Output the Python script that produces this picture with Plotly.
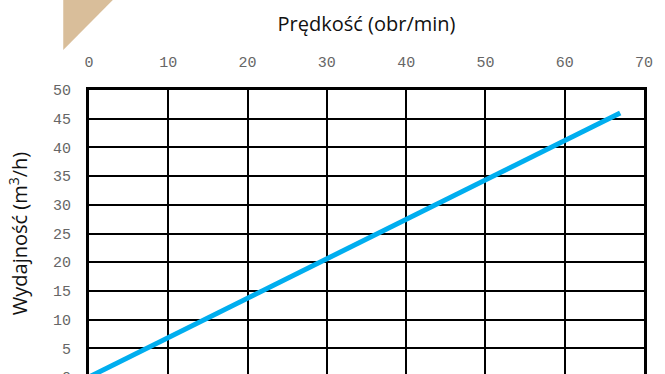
import plotly.graph_objects as go

# Data
speed = [0, 67]          # obr/min
flow = [0, 46]           # m3/h
x_ticks = [0, 10, 20, 30, 40, 50, 60, 70]
y_ticks = [0, 5, 10, 15, 20, 25, 30, 35, 40, 45, 50]

W, H = 665, 400
ml, mr, mt, mb = 89, 16, 90, 23
pw, ph = W - ml - mr, H - mt - mb

def px_to_paper(x, y):
    return (x - ml) / pw, 1 - (y - mt) / ph

fig = go.Figure()
fig.add_trace(go.Scatter(x=speed, y=flow, mode="lines",
                         line=dict(color="#00AEEF", width=5),
                         hoverinfo="skip", showlegend=False))

# decorative triangle in top-left corner
p1 = px_to_paper(63, 0)
p2 = px_to_paper(113, 0)
p3 = px_to_paper(63, 50)
fig.add_shape(type="path", xref="paper", yref="paper",
              path=f"M {p1[0]} {p1[1]} L {p2[0]} {p2[1]} L {p3[0]} {p3[1]} Z",
              fillcolor="#D9BE9A", line=dict(width=0), layer="above")

tickfont = dict(family="Liberation Mono", size=15, color="#666666")
titlefont = dict(family="Open Sans", size=20, color="#111111")

fig.update_layout(
    width=W, height=H,
    margin=dict(l=ml, r=mr, t=mt, b=mb),
    paper_bgcolor="white", plot_bgcolor="white",
    xaxis=dict(side="top", range=[0, 70], tickvals=x_ticks,
               showgrid=True, gridcolor="black", gridwidth=2,
               showline=True, linecolor="black", linewidth=3, mirror=True,
               zeroline=False, ticks="outside", ticklen=14, tickcolor="rgba(0,0,0,0)",
               tickfont=tickfont,
               title=dict(text="Prędkość (obr/min)", font=titlefont, standoff=19)),
    yaxis=dict(range=[0, 50], tickvals=y_ticks,
               showgrid=True, gridcolor="black", gridwidth=2,
               showline=True, linecolor="black", linewidth=3, mirror=True,
               zeroline=False, ticks="outside", ticklen=12, tickcolor="rgba(0,0,0,0)",
               tickfont=tickfont,
               title=dict(text="Wydajność (m<sup>3</sup>/h)", font=titlefont, standoff=20)),
)

fig.write_html("out.html", config={"displayModeBar": False},
               post_script="document.body.style.margin='0';document.body.style.overflow='hidden';")
